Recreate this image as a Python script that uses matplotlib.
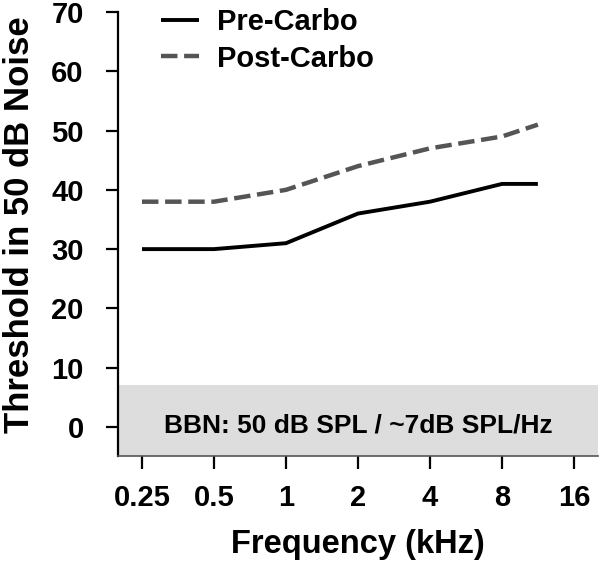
import matplotlib
matplotlib.use("Agg")
import matplotlib.pyplot as plt
import matplotlib.transforms as mtransforms
from matplotlib.ticker import FixedLocator, FixedFormatter, NullLocator

plt.rcParams['font.family'] = ['Liberation Sans', 'DejaVu Sans']

freq_khz = [0.25, 0.5, 1, 2, 4, 8, 11.3]
pre_carbo = [30, 30, 31, 36, 38, 41, 41]
post_carbo = [38, 38, 40, 44, 47, 49, 51]
xtick_vals = [0.25, 0.5, 1, 2, 4, 8, 16]
xtick_labels = ['0.25', '0.5', '1', '2', '4', '8', '16']
ytick_vals = [0, 10, 20, 30, 40, 50, 60, 70]
noise_floor = 7
band_text = 'BBN: 50 dB SPL / ~7dB SPL/Hz'

fig = plt.figure(figsize=(6.0, 5.64), dpi=100)
ax = fig.add_axes([118/600, 1 - 456/564, 480/600, 444/564])

ax.set_xscale('log', base=2)
ax.set_xlim(0.25 * 2 ** (-1/3), 16 * 2 ** (1/3))
ax.set_ylim(-4.9, 70)

ax.axhspan(-4.9, noise_floor, color='#dddddd', zorder=0, lw=0)
ax.text(0.5, 0.3, band_text,
        transform=mtransforms.blended_transform_factory(ax.transAxes, ax.transData),
        fontsize=19, fontweight='bold', ha='center', va='center')

ax.plot(freq_khz, pre_carbo, color='black', lw=2.8, solid_capstyle='butt',
        label='Pre-Carbo', zorder=3)
ax.plot(freq_khz, post_carbo, color='#555555', lw=3.2, dashes=(3.7, 1.5),
        dash_capstyle='butt', label='Post-Carbo', zorder=3)

ax.xaxis.set_major_locator(FixedLocator(xtick_vals))
ax.xaxis.set_major_formatter(FixedFormatter(xtick_labels))
ax.xaxis.set_minor_locator(NullLocator())
ax.yaxis.set_major_locator(FixedLocator(ytick_vals))

for s in ['top', 'right']:
    ax.spines[s].set_visible(False)
ax.spines['left'].set_linewidth(1.6)
ax.spines['bottom'].set_linewidth(1.2)
ax.spines['bottom'].set_color('#555555')

ax.tick_params(axis='y', direction='out', length=8.6, width=1.6, pad=16, labelsize=21)
ax.tick_params(axis='x', direction='out', length=9, width=1.6, pad=11, labelsize=21)
for lab in ax.get_yticklabels() + ax.get_xticklabels():
    lab.set_fontweight('bold')

ax.set_ylabel('Threshold in 50 dB Noise', fontsize=25, fontweight='bold')
ax.yaxis.set_label_coords(-0.17, 0.52)
ax.set_xlabel('Frequency (kHz)', fontsize=23.5, fontweight='bold')
ax.xaxis.set_label_coords(0.5, -0.164)

leg = ax.legend(loc='upper left', bbox_to_anchor=(0.09, 1.008), frameon=False,
                prop={'size': 21, 'weight': 'bold'}, handlelength=1.3,
                handletextpad=0.6, labelspacing=0.28, borderaxespad=0, borderpad=0)

fig.savefig('out.png', dpi=100)
